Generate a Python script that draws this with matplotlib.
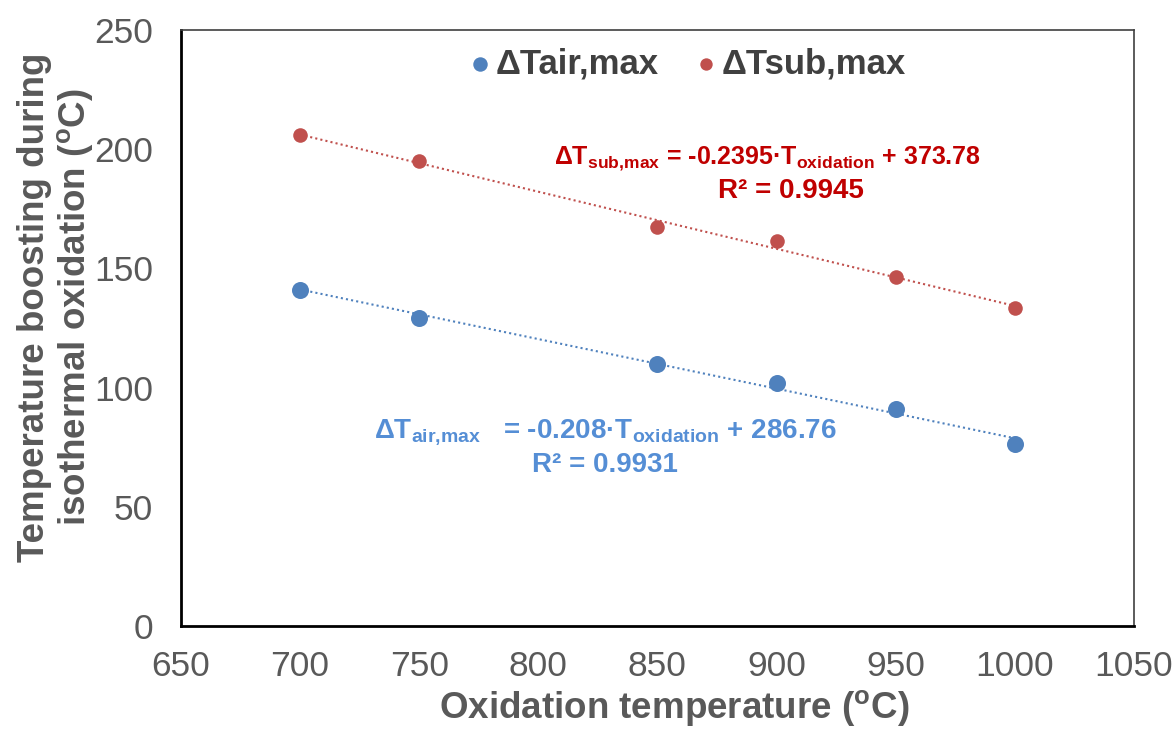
import numpy as np
import matplotlib
matplotlib.use("Agg")
import matplotlib.pyplot as plt

plt.rcParams['font.family'] = ['Liberation Sans', 'DejaVu Sans']
plt.rcParams['mathtext.fontset'] = 'custom'
plt.rcParams['mathtext.rm'] = 'Liberation Sans:bold'
plt.rcParams['mathtext.bf'] = 'Liberation Sans:bold'
plt.rcParams['mathtext.default'] = 'bf'

# data
temps = [700, 750, 850, 900, 950, 1000]
dT_air = [141.0, 129.4, 110.0, 102.0, 90.9, 76.2]
dT_sub = [206.0, 195.0, 167.5, 161.6, 146.6, 133.6]
fit_air = (-0.208, 286.76)
fit_sub = (-0.2395, 373.78)

blue = '#4F81BD'
red = '#C0504D'
gray = '#595959'

fig = plt.figure(figsize=(11.75, 7.29), dpi=100)
ax = fig.add_axes([0.154, 0.1413, 0.811, 0.8175])

xl = np.array([700, 1000])
ax.plot(xl, fit_air[0] * xl + fit_air[1], ls=(0, (1, 1.5)), color=blue, lw=1.5, zorder=1)
ax.plot(xl, fit_sub[0] * xl + fit_sub[1], ls=(0, (1, 1.5)), color=red, lw=1.5, zorder=1)
ax.scatter(temps, dT_air, s=150, color=blue, label='ΔTair,max', zorder=3, linewidths=0)
ax.scatter(temps, dT_sub, s=110, color=red, label='ΔTsub,max', zorder=3, linewidths=0)

ax.set_xlim(650, 1050)
ax.set_ylim(0, 250)
ax.set_xticks(np.arange(650, 1051, 50))
ax.set_yticks(np.arange(0, 251, 50))
ax.tick_params(length=0, labelsize=25.5, labelcolor=gray)
ax.tick_params(axis='x', pad=17)
ax.tick_params(axis='y', pad=20)

for side in ['left', 'bottom']:
    ax.spines[side].set_linewidth(2)
    ax.spines[side].set_color('black')
for side in ['top', 'right']:
    ax.spines[side].set_linewidth(1.2)
    ax.spines[side].set_color('#404040')

ax.set_xlabel('Oxidation temperature ($^{\\mathrm{o}}$C)', fontsize=26.5, fontweight='bold', color=gray, labelpad=4)
ax.xaxis.label.set_x(0.518)
ax.set_ylabel('Temperature boosting during\nisothermal oxidation ($^{\\mathrm{o}}$C)', fontsize=26.5,
              fontweight='bold', color=gray, linespacing=1.1)
ax.yaxis.set_label_coords(-0.09, 0.535)

leg = ax.legend(loc='upper center', bbox_to_anchor=(0.531, 1.023), ncol=2, frameon=False,
                fontsize=25, handlelength=0.7, handletextpad=0.1, columnspacing=1.0, markerscale=0.85)
for t in leg.get_texts():
    t.set_fontweight('bold')
    t.set_color('#404040')

ax.text(896, 196, 'ΔT$_{sub{,}max}$ = -0.2395·T$_{oxidation}$ + 373.78', fontsize=18,
        fontweight='bold', color='#C00000', ha='center', va='center')
ax.text(906, 182.5, 'R² = 0.9945', fontsize=20, fontweight='bold', color='#C00000',
        ha='center', va='center')
ax.text(828, 81.5, 'ΔT$_{air{,}max}$   = -0.208·T$_{oxidation}$ + 286.76', fontsize=20,
        fontweight='bold', color='#558ED5', ha='center', va='center')
ax.text(828, 67.5, 'R² = 0.9931', fontsize=20, fontweight='bold', color='#558ED5',
        ha='center', va='center')

fig.savefig('out.png', dpi=100)
